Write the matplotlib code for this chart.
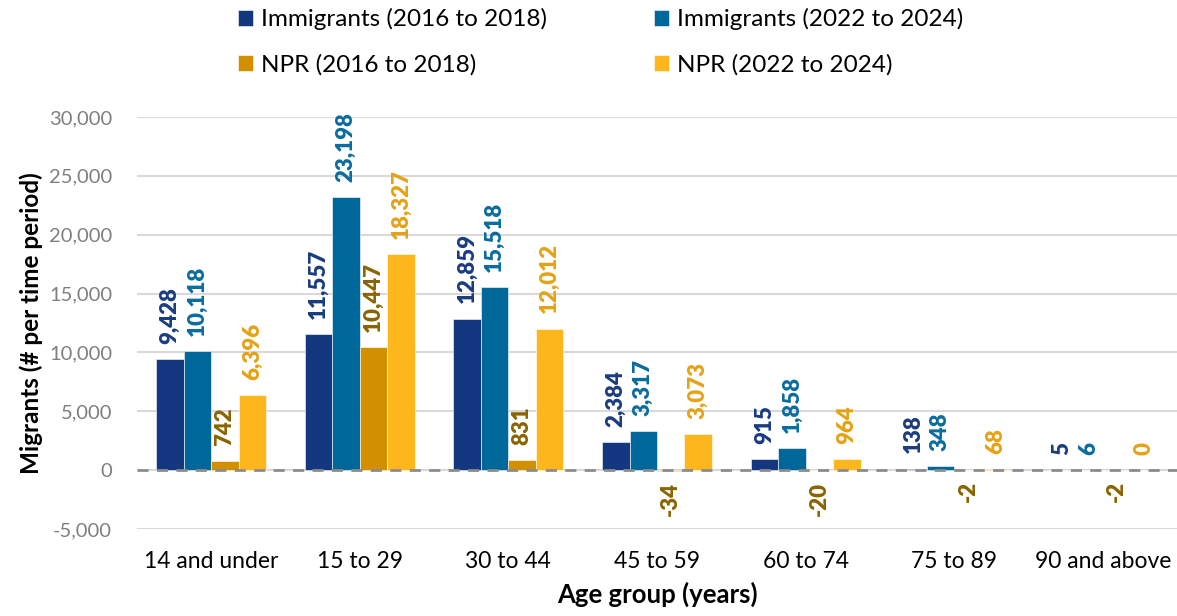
import numpy as np
import matplotlib
matplotlib.use('Agg')
from matplotlib import pyplot as plt
import matplotlib.ticker as ticker

plt.rcParams['font.family'] = ['Lato', 'DejaVu Sans']

# ----- Data ----- #
age_groups = ['14 and under', '15 to 29', '30 to 44', '45 to 59',
              '60 to 74', '75 to 89', '90 and above']
imm_1618 = [9428, 11557, 12859, 2384, 915, 138, 5]
imm_2224 = [10118, 23198, 15518, 3317, 1858, 348, 6]
npr_1618 = [742, 10447, 831, -34, -20, -2, -2]
npr_2224 = [6396, 18327, 12012, 3073, 964, 68, 0]

series = [imm_1618, imm_2224, npr_1618, npr_2224]
names = ['Immigrants (2016 to 2018)', 'Immigrants (2022 to 2024)',
         'NPR (2016 to 2018)', 'NPR (2022 to 2024)']
bar_col = ['#14387F', '#00679A', '#D29000', '#FDB71C']
lab_col = ['#1A3C80', '#0A6C9E', '#8A6400', '#E5A215']

# ----- Figure ----- #
fig = plt.figure(figsize=(11.77, 6.16), dpi=100)
ax = fig.add_axes([0.1164, 0.1412, 0.8836, 0.6689])

x = np.arange(len(age_groups))
w = 0.185
handles = []
for k in range(4):
    pos = x + (k - 1.5)*w
    b = ax.bar(pos, series[k], width=w, color=bar_col[k], label=names[k],
               edgecolor='white', linewidth=0.4, zorder=3)
    handles.append(b)
    for xp, v in zip(pos, series[k]):
        if v >= 0:
            ax.annotate(f'{v:,}', (xp, v), xytext=(0, 11), textcoords='offset points',
                        rotation=90, ha='center', va='bottom', fontsize=16,
                        fontweight='heavy', color=lab_col[k], annotation_clip=False)
        else:
            ax.annotate(f'{v:,}', (xp, v), xytext=(0, -8), textcoords='offset points',
                        rotation=90, ha='center', va='top', fontsize=16,
                        fontweight='heavy', color=lab_col[k], annotation_clip=False)

ax.axhline(0, color='#8C8C8C', linestyle=(0, (4, 3)), linewidth=2.0, zorder=4)

ax.set_xlim(-0.5, len(age_groups) - 0.5)
ax.set_ylim(-5000, 30000)
ax.yaxis.set_major_locator(ticker.MultipleLocator(5000))
ax.yaxis.set_major_formatter(ticker.FuncFormatter(lambda v, p: f'{int(v):,}'))
ax.set_xticks(x)
ax.set_xticklabels(age_groups, fontsize=16.5)
ax.tick_params(axis='y', labelsize=14.5, labelcolor='#7F7F7F', length=0, pad=18)
ax.tick_params(axis='x', length=0, pad=16)
ax.grid(axis='y', color='#D9D9D9', linewidth=1.5, zorder=0)
for s in ax.spines.values():
    s.set_visible(False)

ax.set_xlabel('Age group (years)', fontsize=18.5, fontweight='bold', labelpad=7)
ax.set_ylabel('Migrants (# per time period)', fontsize=17.5, fontweight='bold', labelpad=4)

order = [handles[0], handles[2], handles[1], handles[3]]
fig.legend(order, [h.get_label() for h in order], loc='upper center',
           bbox_to_anchor=(0.51, 1.022), ncol=2, frameon=False, fontsize=17.5,
           handlelength=0.65, handleheight=0.65, handletextpad=0.3,
           columnspacing=4.4, labelspacing=0.98)

plt.savefig('out.png', dpi=100)
plt.close()
